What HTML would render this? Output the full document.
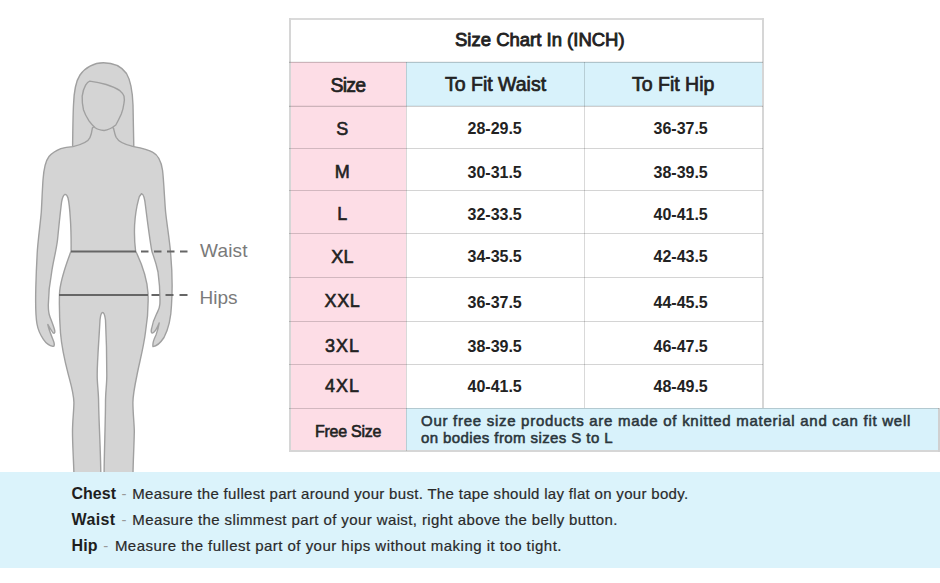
<!DOCTYPE html>
<html><head><meta charset="utf-8">
<style>
*{margin:0;padding:0;box-sizing:border-box}
html,body{width:940px;height:583px;background:#fff;overflow:hidden;position:relative;font-family:"Liberation Sans",sans-serif}
.a{position:absolute}
.hl{position:absolute;height:1px;background:rgba(0,0,0,0.17)}
.vl{position:absolute;width:1px;background:rgba(0,0,0,0.15)}
.t{position:absolute;white-space:nowrap;color:#222;line-height:1}
.c{text-align:center}
.sb{-webkit-text-stroke:0.7px #222}
.sz{left:289px;width:107px;text-align:center;font-size:18px;letter-spacing:0.3px;-webkit-text-stroke:0.6px #222}
.v{font-size:16px;font-weight:bold;letter-spacing:0px}
.fs{font-size:15px;color:#2b363c;-webkit-text-stroke:0.55px #2b363c}
.bt{font-size:15px;color:#2a2a2a;-webkit-text-stroke:0.2px #2a2a2a}
.bk{font-size:16px;font-weight:bold;color:#1e1e1e}
.d{font-size:15px;color:#999}
</style></head><body>
<!-- figure -->
<svg class="a" style="left:0;top:0" width="200" height="472" viewBox="0 0 200 472">
<g fill="#d4d4d4" stroke="#a0a0a0" stroke-width="1.4" stroke-linejoin="round">
<path d="M72.6 147 C72.8 130 73 115 73.5 105 C74 90 76 81 80 75 C85 67.5 94 62.8 103.4 62.8 C113 62.8 121.5 66.5 126.5 73.5 C131 81 132.5 92 133 105 C133.3 118 133.6 132 133.8 147 Z"/>
<path d="M73 146.6 C80 145 88 142 89.9 137.8 C91.2 135 92 131 92.4 128 L100 121 L107 121 L113.6 128.5 C114.3 131.5 115 135 116.1 137.3 C118.5 142 126 145 133.6 146.6 C141 148 149 150 153 152.3 C158 155 161 160 162.5 170 C163.8 180 164.5 200 165.6 212 C167 225 169.5 240 170.5 252 C172 268 172.5 290 171.5 305 C171 318 169 328 164 337.5 C161 342 158 346 153 346.6 C152.5 344 154 339 156 335 C157.5 331 158.7 326 159.2 322.9 C157.5 327 155.5 331 153.5 332.5 C151.5 334 150.8 332 151.5 329 C152.5 323 154.5 318 156.5 314 C158.5 310 159.8 308 159.9 304 C160.2 295 159.8 285 158 272 C156 262 153 255 151.8 251 C149.5 238 147.5 222 145.5 206 C144.8 199 143.5 194 141.6 193.6 C140 195 139 197 138.5 199.6 C136.5 207 135.2 215 134.6 225 C134.2 235 134.8 245 135.6 251 C141 262 147 278 148 293 C148.5 305 147.5 320 145.5 332 C143.5 348 139.5 362 137 375 C134.5 387 132.8 396 132.9 403 C133 415 134.4 425 134.3 432 C134 447 133.2 460 133 473 L104.1 473 C104.3 450 105.5 420 105.5 402.3 C105.5 392 106.8 385 106.8 374.9 C106.8 350 106 330 105.5 320 C104.8 315 103.5 312.5 102.7 312.5 C101.8 312.5 100.5 315 100 320 C99 340 97.2 360 97.2 374.9 C97.2 385 98.6 392 98.6 402.3 C98.8 420 100.6 450 100.8 473 L73.9 473 C73.6 460 72.5 445 72.5 432 C72.5 420 74 410 73.9 402.3 C73.5 392 70.5 383 68.4 374.9 C64.5 360 61.5 345 60.5 333 C59.5 320 59.2 305 59.5 294 C60 280 67 262 71.1 251 C71.2 240 71 228 70.3 218 C69.8 210 69 202 68 198 C67.2 195.5 66 194.3 64.9 194.4 C63.5 195 62.3 198 61.6 202 C60.5 210 59 225 57.5 240 C56 252 53 262 51.6 272.6 C49.8 282 48.4 295 48.3 305 C48.3 310 48.8 314 50 317 C51.5 321 53.5 326 54.6 330 C55.2 332.5 54.5 334 53.2 333 C51.5 331 49.5 327 47.8 324.5 C49 330 51.5 336 53.5 341 C54.7 344 54.5 346.5 53 346.4 C49.5 345.8 45.5 342.5 43.4 339.4 C40.5 335 38 330 37 324 C35.6 316 35.5 300 35.8 288 C36.2 272 36.8 260 37.4 250 C38.3 238 40.5 222 41.3 212 C42 200 42.3 190 43 180 C43.7 170 45.5 161 49 156.5 C51.5 153.5 55 151 60.8 148.6 C65 147.2 69 146.8 73 146.6 Z"/>
<path d="M89.7 81.1 C96 82 101 83 106.2 84.5 C111 86 116 88 119.9 90.7 C122 92.5 123.5 94 124 96.2 C124.5 99 124.5 101 124 103 C123.5 107 122.5 111 121.3 114 C119.5 118 117.5 122 115.8 125 C112 128 108 130 104.1 130.5 C100 130 97 129 95.2 127.7 C92 125 90.5 123 89 120.9 C86.5 117 84.5 113 83.5 109.9 C82.5 105 82 100 82.2 96.2 C82.7 92 84 88 85.6 85.2 C86.8 83 88 81.5 89.7 81.1 Z"/>
</g>
<g stroke="#666" stroke-width="2">
<line x1="71" y1="251.5" x2="136" y2="251.5"/>
<line x1="59" y1="295" x2="148" y2="295"/>
</g>
<g stroke="#666" stroke-width="2">
<line x1="141" y1="251.5" x2="190" y2="251.5" stroke-dasharray="7.5 5.5"/>
<line x1="151.5" y1="295" x2="190" y2="295" stroke-dasharray="8 6"/>
</g>
</svg>
<div class="t m" style="left:200px;top:240.5px;font-size:19px;letter-spacing:0.2px;color:#7a7a7a">Waist</div>
<div class="t m" style="left:199.5px;top:287.5px;font-size:19px;letter-spacing:0px;color:#7a7a7a">Hips</div>

<!-- bottom band -->
<div class="a" style="left:0;top:472px;width:940px;height:96px;background:#dbf3fb"></div>

<!-- table backgrounds -->
<div class="a" style="left:289px;top:62px;width:117px;height:389px;background:#fddde6"></div>
<div class="a" style="left:406px;top:62px;width:357px;height:44px;background:#d8f2fb"></div>
<div class="a" style="left:406px;top:408px;width:533px;height:43px;background:#d8f2fb"></div>
<!-- borders -->
<div class="a" style="left:289px;top:18px;width:475px;height:2px;background:#dadada"></div>
<div class="a" style="left:289px;top:18px;width:2px;height:434px;background:#d6d6d6"></div>
<div class="a" style="left:762px;top:18px;width:2px;height:390px;background:#d6d6d6"></div>
<div class="a" style="left:289px;top:450px;width:651px;height:2px;background:#d6d6d6"></div>
<div class="a" style="left:938px;top:408px;width:2px;height:44px;background:#d0d0d0"></div>
<div class="hl" style="left:289px;top:62px;width:474px;background:rgba(0,0,0,0.19)"></div>
<div class="hl" style="left:289px;top:61px;width:474px;background:rgba(0,0,0,0.05)"></div>
<div class="hl" style="left:289px;top:106px;width:474px;background:rgba(0,0,0,0.19)"></div>
<div class="hl" style="left:289px;top:105px;width:474px;background:rgba(0,0,0,0.05)"></div>
<div class="hl" style="left:289px;top:148px;width:474px"></div>
<div class="hl" style="left:289px;top:190px;width:474px"></div>
<div class="hl" style="left:289px;top:233px;width:474px"></div>
<div class="hl" style="left:289px;top:277px;width:474px"></div>
<div class="hl" style="left:289px;top:321px;width:474px"></div>
<div class="hl" style="left:289px;top:364px;width:474px"></div>
<div class="hl" style="left:289px;top:408px;width:650px"></div>
<div class="vl" style="left:406px;top:62px;height:389px"></div>
<div class="vl" style="left:584px;top:62px;height:346px"></div>

<!-- table text -->
<div class="t m sb" style="left:455px;top:31px;font-size:18.5px;-webkit-text-stroke:0.85px #222">Size Chart In (INCH)</div>
<div class="t m sb" style="left:330.5px;top:75.5px;font-size:19.5px;letter-spacing:-0.8px">Size</div>
<div class="t m sb" style="left:445px;top:74.5px;font-size:19.5px;letter-spacing:0px">To Fit Waist</div>
<div class="t m sb" style="left:632px;top:74.5px;font-size:19.5px;letter-spacing:0px">To Fit Hip</div>
<div class="t m sz" style="top:120.0px">S</div>
<div class="t m v" style="left:467.5px;top:120.8px">28-29.5</div>
<div class="t m v" style="left:653.5px;top:120.8px">36-37.5</div>
<div class="t m sz" style="top:162.5px">M</div>
<div class="t m v" style="left:467.5px;top:165.0px">30-31.5</div>
<div class="t m v" style="left:653.5px;top:165.0px">38-39.5</div>
<div class="t m sz" style="top:204.7px">L</div>
<div class="t m v" style="left:467.5px;top:206.7px">32-33.5</div>
<div class="t m v" style="left:653.5px;top:206.7px">40-41.5</div>
<div class="t m sz" style="top:247.5px">XL</div>
<div class="t m v" style="left:467.5px;top:249.0px">34-35.5</div>
<div class="t m v" style="left:653.5px;top:249.0px">42-43.5</div>
<div class="t m sz" style="top:291.5px;letter-spacing:0.7px">XXL</div>
<div class="t m v" style="left:467.5px;top:294.7px">36-37.5</div>
<div class="t m v" style="left:653.5px;top:294.7px">44-45.5</div>
<div class="t m sz" style="top:337.3px;letter-spacing:1px">3XL</div>
<div class="t m v" style="left:467.5px;top:338.5px">38-39.5</div>
<div class="t m v" style="left:653.5px;top:338.5px">46-47.5</div>
<div class="t m sz" style="top:377.3px;letter-spacing:1px">4XL</div>
<div class="t m v" style="left:467.5px;top:378.7px">40-41.5</div>
<div class="t m v" style="left:653.5px;top:378.7px">48-49.5</div>
<div class="t m" style="left:315px;top:423.5px;font-size:16px;letter-spacing:-0.25px;-webkit-text-stroke:0.6px #222">Free Size</div>
<div class="t m fs" style="left:421px;top:413px;letter-spacing:0.72px">Our free size products are made of knitted material and can fit well</div>
<div class="t m fs" style="left:421px;top:430px;letter-spacing:0.41px">on bodies from sizes S to L</div>
<div class="t m bk" style="left:71.5px;top:485.5px;letter-spacing:0px">Chest</div>
<div class="t d" style="left:121.5px;top:486px">-</div>
<div class="t m bt" style="left:132.3px;top:486px;letter-spacing:0.315px">Measure the fullest part around your bust. The tape should lay flat on your body.</div>
<div class="t m bk" style="left:71.5px;top:511.5px;letter-spacing:0.4px">Waist</div>
<div class="t d" style="left:121.5px;top:512px">-</div>
<div class="t m bt" style="left:132.3px;top:512px;letter-spacing:0.396px">Measure the slimmest part of your waist, right above the belly button.</div>
<div class="t m bk" style="left:71.5px;top:537.5px;letter-spacing:0.1px">Hip</div>
<div class="t d" style="left:103.3px;top:538px">-</div>
<div class="t m bt" style="left:114.9px;top:538px;letter-spacing:0.47px">Measure the fullest part of your hips without making it too tight.</div>
</body></html>
